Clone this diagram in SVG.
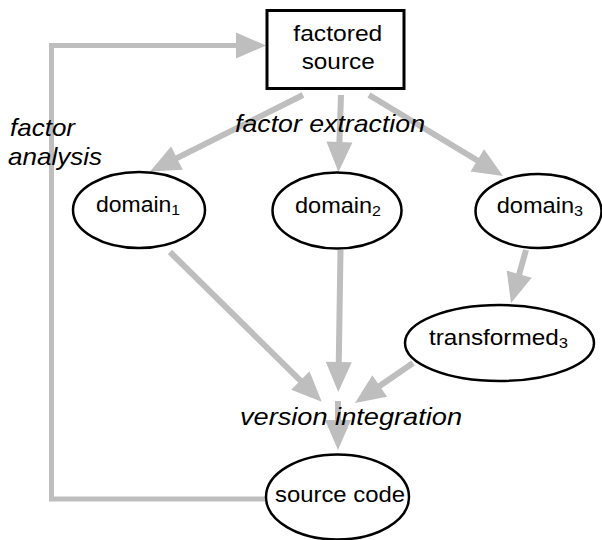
<svg xmlns="http://www.w3.org/2000/svg" width="602" height="540" viewBox="0 0 602 540">
  <style>
    .node { fill: #ffffff; stroke: #000000; stroke-width: 2.5; }
    .box { fill: #ffffff; stroke: #000000; stroke-width: 3; }
    .label { font-family: "Liberation Sans", Arial, Helvetica, sans-serif; font-size: 22px; fill: #000000; }
    .sub { font-size: 15px; }
    .note { font-family: "Liberation Sans", Arial, Helvetica, sans-serif; font-size: 24px; font-style: italic; fill: #000000; }
    .flow { fill: none; stroke: #bebebe; stroke-width: 6; }
    .loop { fill: none; stroke: #bebebe; stroke-width: 5; stroke-linejoin: miter; }
  </style>
  <defs>
    <marker id="head" markerUnits="userSpaceOnUse" markerWidth="30" markerHeight="26" refX="4" refY="13" orient="auto" overflow="visible">
      <path d="M0,0 L30,13 L0,26 Z" fill="#bebebe"/>
    </marker>
  </defs>

  <!-- connectors -->
  <g id="connectors">
    <path class="loop" d="M266,499 L51.5,499 L51.5,45.5 L240,45.5" marker-end="url(#head)"/>
    <line class="flow" x1="303" y1="95" x2="173.3" y2="159.9" marker-end="url(#head)"/>
    <line class="flow" x1="341" y1="95" x2="339.3" y2="146" marker-end="url(#head)"/>
    <line class="flow" x1="369" y1="95" x2="480.75" y2="162.55" marker-end="url(#head)"/>
    <line class="flow" x1="170" y1="252" x2="303.2" y2="383.4" marker-end="url(#head)"/>
    <line class="flow" x1="340.5" y1="250" x2="338.7" y2="366" marker-end="url(#head)"/>
    <line class="flow" x1="413" y1="363" x2="376.4" y2="388.2" marker-end="url(#head)"/>
    <line class="flow" x1="338" y1="401" x2="338" y2="424" marker-end="url(#head)"/>
    <line class="flow" x1="526" y1="250" x2="518.1" y2="278" marker-end="url(#head)"/>
  </g>

  <!-- nodes -->
  <g id="factored-source">
    <rect class="box" x="267" y="10.5" width="137" height="78"/>
    <text class="label" x="293.3" y="41" textLength="89" lengthAdjust="spacingAndGlyphs">factored</text>
    <text class="label" x="301.7" y="69" textLength="73" lengthAdjust="spacingAndGlyphs">source</text>
  </g>
  <g id="domain1">
    <ellipse class="node" cx="139" cy="210" rx="66" ry="38"/>
    <text class="label" x="96" y="212" textLength="84" lengthAdjust="spacingAndGlyphs">domain<tspan class="sub" dy="3">1</tspan></text>
  </g>
  <g id="domain2">
    <ellipse class="node" cx="337" cy="210.5" rx="64.5" ry="38"/>
    <text class="label" x="295" y="213" textLength="86" lengthAdjust="spacingAndGlyphs">domain<tspan class="sub" dy="3">2</tspan></text>
  </g>
  <g id="domain3">
    <ellipse class="node" cx="538.5" cy="211" rx="63" ry="37"/>
    <text class="label" x="496.7" y="212.5" textLength="86.3" lengthAdjust="spacingAndGlyphs">domain<tspan class="sub" dy="3">3</tspan></text>
  </g>
  <g id="transformed3">
    <ellipse class="node" cx="499.5" cy="343" rx="94.5" ry="38"/>
    <text class="label" x="429" y="345" textLength="139" lengthAdjust="spacingAndGlyphs">transformed<tspan class="sub" dy="3">3</tspan></text>
  </g>
  <g id="source-code">
    <ellipse class="node" cx="337.5" cy="497" rx="71.5" ry="42.5"/>
    <text class="label" x="275" y="502" textLength="130" lengthAdjust="spacingAndGlyphs">source code</text>
  </g>

  <!-- edge labels -->
  <g id="edge-labels">
    <text class="note" x="235" y="131.7" textLength="190" lengthAdjust="spacingAndGlyphs">factor extraction</text>
    <text class="note" x="10" y="136" textLength="65" lengthAdjust="spacingAndGlyphs">factor</text>
    <text class="note" x="8" y="165" textLength="94" lengthAdjust="spacingAndGlyphs">analysis</text>
    <text class="note" x="240" y="425" textLength="222" lengthAdjust="spacingAndGlyphs">version integration</text>
  </g>
</svg>
